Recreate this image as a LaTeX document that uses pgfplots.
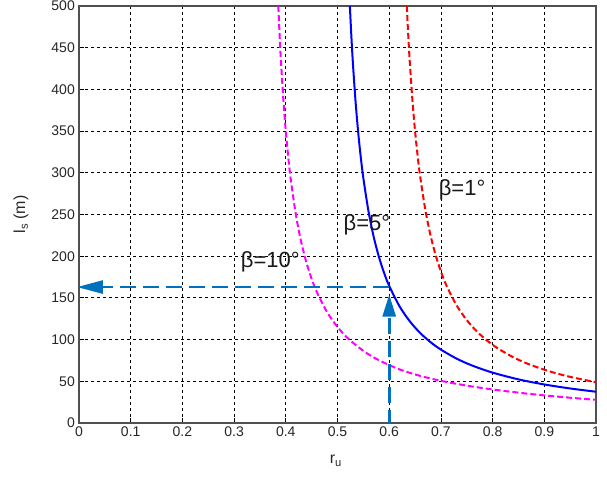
\documentclass[border=0pt]{standalone}
\usepackage{pgfplots}
\pgfplotsset{compat=1.18}
\usepackage{fontspec}
\setmainfont{Liberation Sans}
\usetikzlibrary{arrows.meta}

\definecolor{arrowblue}{RGB}{0,114,189}
\definecolor{framegray}{RGB}{80,80,80}
\definecolor{mag}{RGB}{255,0,255}
\definecolor{pureblue}{RGB}{0,0,255}
\definecolor{purered}{RGB}{255,0,0}

\begin{document}
\begin{tikzpicture}
\begin{axis}[
    scale only axis,
    width=517pt, height=417pt,
    xmin=0, xmax=1, ymin=0, ymax=500,
    xtick={0,0.1,...,1},
    xticklabels={0,0.1,0.2,0.3,0.4,0.5,0.6,0.7,0.8,0.9,1},
    ytick={0,50,...,500},
    /pgf/number format/assume math mode=true,
    ticklabel style={font=\fontsize{14}{16}\selectfont, text=black!85},
    yticklabel style={inner sep=1pt, xshift=-3pt},
    xticklabel style={inner sep=1pt, yshift=-3pt},
    grid=major,
    major grid style={black, line width=0.8pt, dash pattern=on 3pt off 3pt},
    axis line style={framegray, line width=1.4pt},
    tick style={black, line width=0.8pt},
    major tick length=5pt,
    tick pos=left,
    tick align=inside,
    xlabel={r\textsubscript{u}},
    ylabel={l\textsubscript{s} (m)},
    every axis x label/.style={at={(axis description cs:0.497,-0.09)}, anchor=center,
        font=\fontsize{16}{18}\selectfont, text=black!85},
    every axis y label/.style={at={(axis description cs:-0.112,0.5)}, rotate=90, anchor=center,
        font=\fontsize{16}{18}\selectfont, text=black!85},
    clip=true,
]
% beta = 10 deg
\addplot[mag, line width=2pt, dash pattern=on 6pt off 3pt, smooth] coordinates {
(0.3855,500)(0.388,465.0)(0.39,440.8)(0.395,390.1)(0.40,349.9)(0.405,317.2)(0.41,290.2)
(0.42,247.9)(0.43,216.5)(0.44,192.1)(0.45,172.8)(0.46,157.0)(0.48,132.8)(0.50,115.1)
(0.52,101.6)(0.55,86.5)(0.58,75.3)(0.62,64.3)(0.66,56.5)(0.70,50.6)(0.75,44.8)
(0.80,40.2)(0.85,36.4)(0.90,33.1)(0.95,30.3)(1.0,27.8)};
% beta = 5 deg
\addplot[pureblue, line width=2pt, smooth] coordinates {
(0.5239,500)(0.527,461.4)(0.530,429.3)(0.535,384.8)(0.54,348.6)(0.545,318.7)(0.55,293.6)
(0.56,253.6)(0.57,223.2)(0.58,199.4)(0.59,180.2)(0.60,164.4)(0.62,139.9)(0.64,121.8)
(0.66,107.9)(0.68,96.9)(0.70,88.0)(0.73,77.3)(0.76,69.0)(0.80,60.4)(0.85,52.3)
(0.90,46.2)(0.95,41.4)(1.0,37.5)};
% beta = 1 deg
\addplot[purered, line width=2pt, dash pattern=on 6pt off 3pt, smooth] coordinates {
(0.634,500)(0.637,462.9)(0.64,430.9)(0.645,386.3)(0.65,350.2)(0.655,320.2)(0.66,295.1)
(0.67,255.1)(0.68,224.7)(0.69,200.9)(0.70,181.7)(0.71,165.9)(0.73,141.4)(0.75,123.4)
(0.77,109.5)(0.79,98.5)(0.81,89.5)(0.84,78.8)(0.87,70.5)(0.91,61.9)(0.95,55.3)(1.0,48.8)};

% reading arrows
\draw[arrowblue, line width=2.6pt, dash pattern=on 16pt off 7pt,
      -{Triangle[length=26pt,width=13pt]}] (axis cs:0.6,163) -- (axis cs:-0.004,163);
\draw[arrowblue, line width=2.6pt, dash pattern=on 16pt off 7pt,
      -{Triangle[length=22pt,width=13pt]}] (axis cs:0.6,-4) -- (axis cs:0.6,154);

\node[font=\fontsize{22}{24}\selectfont, text=black!90] at (axis cs:0.37,193) {β=10°};
\node[font=\fontsize{22}{24}\selectfont, text=black!90] at (axis cs:0.557,238) {β=5°};
\node[font=\fontsize{22}{24}\selectfont, text=black!90] at (axis cs:0.741,280) {β=1°};
\end{axis}
\path (current axis.south west) ++(-79pt,-55pt);
\path (current axis.north east) ++(11pt,6pt);
\end{tikzpicture}
\end{document}
